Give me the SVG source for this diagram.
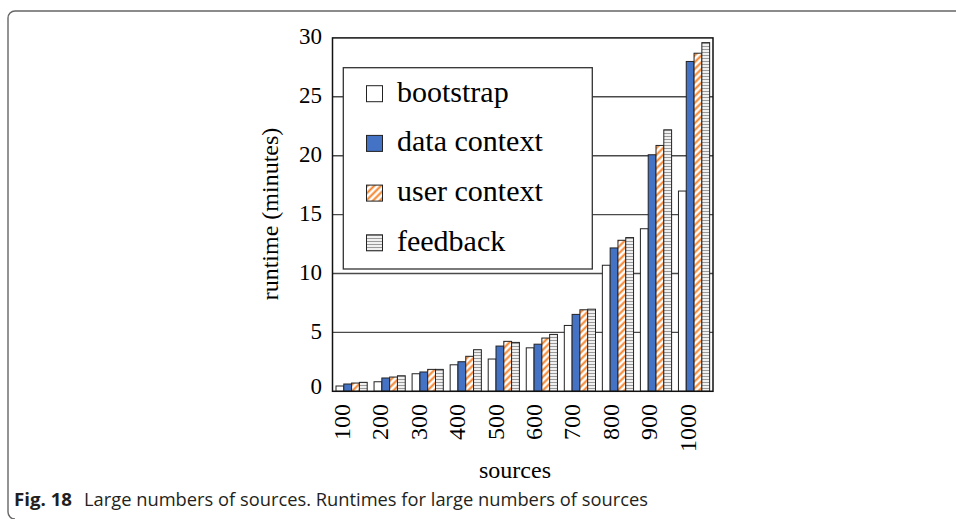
<svg xmlns="http://www.w3.org/2000/svg" width="956" height="519" viewBox="0 0 956 519">
<defs>
<pattern id="pUser" patternUnits="userSpaceOnUse" width="4.8" height="10" patternTransform="rotate(45)">
<rect width="4.8" height="10" fill="#fff"/>
<line x1="2.4" y1="0" x2="2.4" y2="10" stroke="#f58025" stroke-width="2"/>
</pattern>
<pattern id="pFeed" patternUnits="userSpaceOnUse" width="10" height="3">
<rect width="10" height="3" fill="#fff"/>
<line x1="0" y1="1.5" x2="10" y2="1.5" stroke="#9a9a9a" stroke-width="1.3"/>
</pattern>
</defs>
<style>
.t{font-family:"Liberation Serif","Times New Roman",serif;fill:#000}
.tick{font-size:23px}
.xt{font-size:24px}
.grid{stroke:#4a4a4a;stroke-width:1.4}
.b{stroke:#222;stroke-width:1}
.bs{fill:#fff}
.dc{fill:#4472c4}
.uc{fill:url(#pUser)}
.fb{fill:url(#pFeed)}
.leg{font-size:30px}
.cap{font-family:"Open Sans","Liberation Sans",sans-serif;font-size:18px;fill:#231f20}
</style>
<rect width="956" height="519" fill="#fff"/>
<path d="M956 11 H15 A7 7 0 0 0 8 18 V512 A7 7 0 0 0 15 519" fill="none" stroke="#666" stroke-width="1.4"/>

<g id="grid">
<line class="grid" x1="332.5" y1="332.4" x2="713" y2="332.4"/>
<line class="grid" x1="332.5" y1="273.5" x2="713" y2="273.5"/>
<line class="grid" x1="332.5" y1="214.6" x2="713" y2="214.6"/>
<line class="grid" x1="332.5" y1="155.7" x2="713" y2="155.7"/>
<line class="grid" x1="332.5" y1="96.8" x2="713" y2="96.8"/>
</g>

<g id="yticks" class="t tick" text-anchor="end">
<text x="322" y="44">30</text>
<text x="322" y="103">25</text>
<text x="322" y="162">20</text>
<text x="322" y="221">15</text>
<text x="322" y="280">10</text>
<text x="322" y="339">5</text>
<text x="322" y="394">0</text>
</g>

<g id="bars" class="b">
<rect class="bs" x="336.0" y="386.0" width="7.8" height="5.3"/>
<rect class="dc" x="343.8" y="384.0" width="7.8" height="7.3"/>
<rect class="uc" x="351.6" y="383.05" width="7.8" height="8.25"/>
<rect class="fb" x="359.4" y="382.35" width="7.8" height="8.95"/>

<rect class="bs" x="374.05" y="381.76" width="7.8" height="9.54"/>
<rect class="dc" x="381.85" y="377.99" width="7.8" height="13.31"/>
<rect class="uc" x="389.65" y="377.05" width="7.8" height="14.25"/>
<rect class="fb" x="397.45" y="375.75" width="7.8" height="15.55"/>

<rect class="bs" x="412.1" y="373.75" width="7.8" height="17.55"/>
<rect class="dc" x="419.9" y="371.98" width="7.8" height="19.32"/>
<rect class="uc" x="427.7" y="369.39" width="7.8" height="21.91"/>
<rect class="fb" x="435.5" y="369.39" width="7.8" height="21.91"/>

<rect class="bs" x="450.15" y="364.8" width="7.8" height="26.5"/>
<rect class="dc" x="457.95" y="361.73" width="7.8" height="29.57"/>
<rect class="uc" x="465.75" y="356.31" width="7.8" height="34.99"/>
<rect class="fb" x="473.55" y="349.72" width="7.8" height="41.58"/>

<rect class="bs" x="488.2" y="359.02" width="7.8" height="32.28"/>
<rect class="dc" x="496.0" y="346.06" width="7.8" height="45.24"/>
<rect class="uc" x="503.8" y="341.35" width="7.8" height="49.95"/>
<rect class="fb" x="511.6" y="342.41" width="7.8" height="48.89"/>

<rect class="bs" x="526.25" y="347.83" width="7.8" height="43.47"/>
<rect class="dc" x="534.05" y="344.18" width="7.8" height="47.12"/>
<rect class="uc" x="541.85" y="338.05" width="7.8" height="53.25"/>
<rect class="fb" x="549.65" y="334.4" width="7.8" height="56.9"/>

<rect class="bs" x="564.3" y="325.45" width="7.8" height="65.85"/>
<rect class="dc" x="572.1" y="314.38" width="7.8" height="76.92"/>
<rect class="uc" x="579.9" y="309.78" width="7.8" height="81.52"/>
<rect class="fb" x="587.7" y="309.19" width="7.8" height="82.11"/>

<rect class="bs" x="602.35" y="265.25" width="7.8" height="126.05"/>
<rect class="dc" x="610.15" y="247.94" width="7.8" height="143.36"/>
<rect class="uc" x="617.95" y="240.28" width="7.8" height="151.02"/>
<rect class="fb" x="625.75" y="237.57" width="7.8" height="153.73"/>

<rect class="bs" x="640.4" y="228.74" width="7.8" height="162.56"/>
<rect class="dc" x="648.2" y="154.76" width="7.8" height="236.54"/>
<rect class="uc" x="656.0" y="145.44" width="7.8" height="245.86"/>
<rect class="fb" x="663.8" y="129.8" width="7.8" height="261.5"/>

<rect class="bs" x="678.45" y="191.04" width="7.8" height="200.26"/>
<rect class="dc" x="686.25" y="61.46" width="7.8" height="329.84"/>
<rect class="uc" x="694.05" y="53.21" width="7.8" height="338.09"/>
<rect class="fb" x="701.85" y="42.61" width="7.8" height="348.69"/>
</g>

<rect id="frame" x="332.5" y="37.9" width="380.5" height="353.4" fill="none" stroke="#111" stroke-width="1.5"/>

<g id="legend">
<rect x="343.3" y="67.7" width="249" height="201.3" fill="#fff" stroke="#333" stroke-width="1.3"/>
<rect class="b bs" x="366.5" y="85.7" width="16" height="16"/>
<rect class="b dc" x="366.5" y="135.4" width="16" height="16"/>
<rect class="b uc" x="366.5" y="185.1" width="16" height="16"/>
<rect class="b fb" x="366.5" y="234.8" width="16" height="16"/>
<text class="t leg" x="397" y="101.5">bootstrap</text>
<text class="t leg" x="397" y="151.2">data context</text>
<text class="t leg" x="397" y="200.9">user context</text>
<text class="t leg" x="397" y="250.6">feedback</text>
</g>

<g id="xticks" class="t xt" text-anchor="end">
<text transform="translate(350,404) rotate(-90)">100</text>
<text transform="translate(388.4,404) rotate(-90)">200</text>
<text transform="translate(426.8,404) rotate(-90)">300</text>
<text transform="translate(465.2,404) rotate(-90)">400</text>
<text transform="translate(503.6,404) rotate(-90)">500</text>
<text transform="translate(542,404) rotate(-90)">600</text>
<text transform="translate(580.4,404) rotate(-90)">700</text>
<text transform="translate(618.8,404) rotate(-90)">800</text>
<text transform="translate(657.2,404) rotate(-90)">900</text>
<text transform="translate(695.6,404) rotate(-90)">1000</text>
</g>

<text id="ylabel" class="t" font-size="24" text-anchor="middle" transform="translate(278,214) rotate(-90)">runtime (minutes)</text>
<text id="xlabel" class="t" font-size="24" text-anchor="middle" x="515" y="478">sources</text>

<g id="caption">
<text class="cap" x="14" y="506" font-weight="bold" fill="#000" textLength="58" lengthAdjust="spacingAndGlyphs">Fig. 18</text>
<text class="cap" x="84" y="506" textLength="564" lengthAdjust="spacingAndGlyphs">Large numbers of sources. Runtimes for large numbers of sources</text>
</g>
</svg>
